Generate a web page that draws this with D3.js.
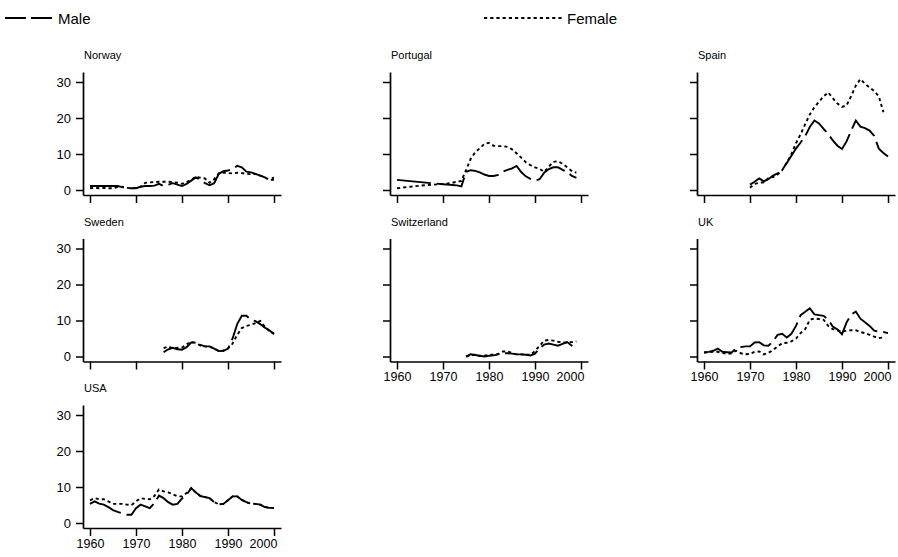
<!DOCTYPE html>
<html>
<head>
<meta charset="utf-8">
<script src="https://cdn.jsdelivr.net/npm/d3@7"></script>
<style>
  html, body { margin: 0; padding: 0; background: #fff; }
  svg { display: block; font-family: Arial, "Liberation Sans", Helvetica, sans-serif; }
</style>
</head>
<body>
<svg id="chart" width="898" height="557"></svg>
<script>
// ---------- DATA ----------
const countries = ["Norway", "Portugal", "Spain", "Sweden", "Switzerland", "UK", "USA"];
const seriesNames = ["Male", "Female"];
const xTickValues = [1960, 1970, 1980, 1990, 2000];
const yTickValues = [0, 10, 20, 30];

const norwayYears = d3.range(1960, 2001);
const norwayMale = [1.1,1.1,1.1,1.1,1.1,1.1,1.1,0.8,0.5,0.5,0.5,0.9,1.1,1.1,1.2,1.7,1.1,1.5,1.9,1.5,1.1,1.7,2.6,3.5,2.9,1.9,1.3,1.9,4.5,5.2,5.4,5.8,6.7,6.3,5.1,4.9,4.5,4.0,3.5,3.2,3.4];
const norwayFemale = [0.5,0.6,0.5,0.6,0.5,0.5,0.8,0.9,0.6,0.5,0.6,0.9,2.0,2.1,2.2,2.3,2.3,2.3,2.2,2.0,1.7,2.2,2.8,3.7,3.4,3.2,2.0,3.0,4.6,4.8,4.7,4.6,4.8,4.7,4.5,4.4,4.4,4.0,3.5,2.8,2.8];

const portugalMaleYears = [1960].concat(d3.range(1970, 2000));
const portugalMale = [2.8,1.6,1.5,1.4,1.3,1.0,5.0,5.5,5.3,4.9,4.3,3.9,3.9,4.2,5.1,5.6,6.0,6.7,5.0,3.8,3.1,2.6,3.0,4.8,5.8,6.3,6.3,5.6,5.0,3.9,3.4];
const portugalFemaleYears = [1960, 1965].concat(d3.range(1970, 2000));
const portugalFemale = [0.5,1.2,1.7,1.8,2.0,2.3,2.5,5.5,8.6,10.5,11.6,12.8,13.1,12.3,12.2,12.2,12.0,11.3,10.2,9.0,7.7,6.9,6.3,5.9,5.0,6.5,7.8,8.0,7.3,6.3,5.3,4.8];

const spainMaleYears = d3.range(1970, 2001);
const spainMale = [1.5,2.3,3.2,2.4,3.0,4.0,4.6,5.6,7.5,9.5,11.5,13.2,15.0,17.5,19.3,18.5,17.0,15.5,13.8,12.3,11.4,13.5,16.5,19.3,17.6,17.2,16.5,15.0,11.5,10.3,9.3];
const spainFemaleYears = d3.range(1970, 2000);
const spainFemale = [0.6,1.7,2.0,2.1,3.3,3.6,4.3,5.5,7.6,10.0,13.0,15.5,18.3,21.0,23.0,24.5,26.0,27.1,25.5,24.0,23.1,23.5,26.1,29.0,30.8,29.5,28.5,27.5,26.0,21.6];

const swedenYears = d3.range(1976, 2001);
const swedenMale = [1.2,2.0,2.4,2.0,1.9,2.6,3.9,3.9,3.2,2.8,2.8,2.2,1.5,1.6,2.2,5.0,9.0,11.3,11.3,10.2,9.8,9.0,8.0,7.3,6.2];
const swedenFemale = [2.3,2.8,2.3,2.4,2.5,3.4,4.0,3.8,3.0,2.8,2.7,2.2,1.5,1.6,2.2,3.6,6.0,7.9,8.5,8.8,9.3,9.9,8.3,7.0,6.4];

const switzerlandYears = d3.range(1975, 2000);
const switzerlandMale = [0.0,0.6,0.4,0.2,0.0,0.2,0.3,0.6,0.9,0.9,0.8,0.6,0.6,0.5,0.3,0.8,2.3,3.3,3.6,3.3,3.0,3.5,4.0,3.0,2.3];
const switzerlandFemale = [0.0,0.3,0.5,0.1,0.2,0.5,0.5,0.7,1.4,1.4,1.0,0.6,0.6,0.5,0.5,1.5,3.0,4.4,4.6,4.4,4.1,3.9,3.9,4.0,4.2];

const ukMaleYears = d3.range(1960, 2001);
const ukMale = [1.1,1.3,1.6,2.2,1.3,1.2,1.1,2.3,2.6,2.8,2.8,3.9,4.0,3.1,3.0,4.2,6.0,6.3,5.3,6.3,8.5,11.5,12.4,13.4,11.7,11.5,11.3,10.2,8.3,7.5,6.2,9.5,11.6,12.5,10.5,9.5,8.5,7.2,6.9,6.8,6.5];
const ukFemaleYears = d3.range(1960, 2000);
const ukFemale = [1.1,1.2,1.3,1.3,1.0,0.7,0.9,1.6,0.9,0.6,0.7,1.3,1.4,0.6,1.0,1.8,2.8,3.7,3.8,4.2,5.0,6.5,7.6,10.2,10.6,10.4,10.2,8.5,7.6,7.3,6.9,7.2,7.3,7.3,6.8,6.5,6.0,5.5,5.1,5.3];

const usaYears = d3.range(1960, 2001);
const usaMale = [5.3,6.0,5.4,5.1,4.4,3.6,3.1,2.7,2.3,2.3,4.1,5.1,4.6,4.1,5.5,7.6,6.9,5.8,5.1,5.3,6.8,7.9,9.7,8.5,7.5,7.2,6.9,5.8,5.2,5.3,6.3,7.4,7.4,6.4,5.8,5.3,5.3,5.1,4.4,4.2,4.2];
const usaFemale = [6.3,6.9,6.6,6.6,6.0,5.3,5.3,5.3,5.1,5.0,6.0,6.9,6.7,6.6,7.5,9.3,8.8,8.5,8.0,7.4,7.4,8.3,9.7,8.5,7.5,7.2,6.9,5.8,5.2,5.3,6.3,7.4,7.4,6.4,5.8,5.4,5.3,5.1,4.5,4.2,4.2];

const panelData = [
  { name: "Norway",      male: [norwayYears, norwayMale],            female: [norwayYears, norwayFemale] },
  { name: "Portugal",    male: [portugalMaleYears, portugalMale],    female: [portugalFemaleYears, portugalFemale] },
  { name: "Spain",       male: [spainMaleYears, spainMale],          female: [spainFemaleYears, spainFemale] },
  { name: "Sweden",      male: [swedenYears, swedenMale],            female: [swedenYears, swedenFemale] },
  { name: "Switzerland", male: [switzerlandYears, switzerlandMale],  female: [switzerlandYears, switzerlandFemale] },
  { name: "UK",          male: [ukMaleYears, ukMale],                female: [ukFemaleYears, ukFemale] },
  { name: "USA",         male: [usaYears, usaMale],                  female: [usaYears, usaFemale] }
];

// ---------- LAYOUT ----------
const svg = d3.select("#chart");
const colX = [83, 390, 697];        // y-axis x positions
const rowZero = [190, 356.5, 523];  // pixel y of value 0
const plotW = 198;
const pxPerUnit = 3.6;
const maleDash = "34,6";
const femaleDash = "3.2,3";
const lineW = 1.9;
const fontStack = "Arial, 'Liberation Sans', sans-serif";

const showXLabels = { "Switzerland": true, "UK": true, "USA": true };

panelData.forEach((p, i) => {
  const col = i % 3, row = Math.floor(i / 3);
  const ax = colX[col], y0 = rowZero[row];

  const x = d3.scaleLinear().domain([1958.48, 2001.52]).range([ax, ax + plotW]);
  const y = d3.scaleLinear().domain([-5 / pxPerUnit, 118 / pxPerUnit]).range([y0 + 5, y0 - 118]);

  const g = svg.append("g");

  // Y axis
  const yAxis = d3.axisLeft(y).tickValues(yTickValues).tickSizeInner(7).tickSizeOuter(0).tickPadding(5);
  const yg = g.append("g").attr("transform", `translate(${ax},0)`).call(yAxis);
  yg.select(".domain").attr("stroke-width", 1.7);
  yg.selectAll(".tick line").attr("stroke-width", 1.5);
  yg.selectAll(".tick text").attr("font-size", 13).attr("font-family", fontStack).attr("fill", "#000");
  if (col !== 0) yg.selectAll(".tick text").remove();

  // X axis
  const xAxis = d3.axisBottom(x).tickValues(xTickValues).tickFormat(d3.format("d")).tickSizeInner(8).tickSizeOuter(0).tickPadding(3);
  const xg = g.append("g").attr("transform", `translate(0,${y0 + 5})`).call(xAxis);
  xg.select(".domain").attr("stroke-width", 1.7);
  xg.selectAll(".tick line").attr("stroke-width", 1.5);
  xg.selectAll(".tick text").attr("font-size", 12.5).attr("font-family", fontStack).attr("fill", "#000")
    .attr("dx", d => d === 2000 ? -11 : 0);
  if (!showXLabels[p.name]) xg.selectAll(".tick text").remove();

  // Title
  g.append("text").attr("x", ax + 1).attr("y", y0 - 131)
    .attr("font-size", 11).attr("font-family", fontStack).attr("fill", "#000").text(p.name);

  const line = d3.line().x(d => x(d[0])).y(d => y(d[1]));

  const maleData = p.male[0].map((yr, k) => [yr, p.male[1][k]]);
  const femaleData = p.female[0].map((yr, k) => [yr, p.female[1][k]]);

  g.append("path").datum(femaleData).attr("d", line)
    .attr("fill", "none").attr("stroke", "#000").attr("stroke-width", lineW)
    .attr("stroke-dasharray", femaleDash);
  g.append("path").datum(maleData).attr("d", line)
    .attr("fill", "none").attr("stroke", "#000").attr("stroke-width", lineW)
    .attr("stroke-dasharray", maleDash);
});

// ---------- LEGEND ----------
const legend = svg.append("g");
const legendItems = [
  { label: seriesNames[0], x1: 5, x2: 52, tx: 58, dash: "21,5" },
  { label: seriesNames[1], x1: 484, x2: 563, tx: 567, dash: femaleDash }
];
legendItems.forEach(it => {
  legend.append("line").attr("x1", it.x1).attr("x2", it.x2).attr("y1", 18).attr("y2", 18)
    .attr("stroke", "#000").attr("stroke-width", lineW).attr("stroke-dasharray", it.dash);
  legend.append("text").attr("x", it.tx).attr("y", 23.5).attr("font-size", 15)
    .attr("font-family", fontStack).attr("fill", "#000").text(it.label);
});
</script>
</body>
</html>
